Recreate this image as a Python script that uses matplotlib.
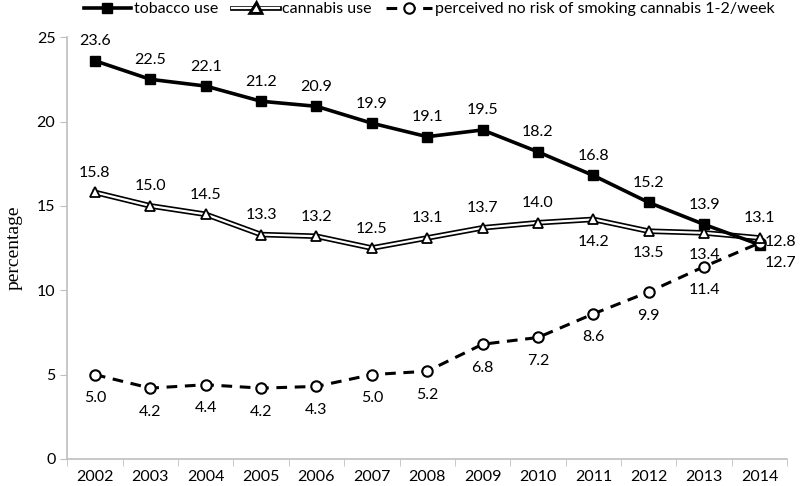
import matplotlib
matplotlib.use("Agg")
import matplotlib.pyplot as plt
import matplotlib.patheffects as pe
from matplotlib.lines import Line2D

years = [2002, 2003, 2004, 2005, 2006, 2007, 2008, 2009, 2010, 2011, 2012, 2013, 2014]
tobacco = [23.6, 22.5, 22.1, 21.2, 20.9, 19.9, 19.1, 19.5, 18.2, 16.8, 15.2, 13.9, 12.7]
cannabis = [15.8, 15.0, 14.5, 13.3, 13.2, 12.5, 13.1, 13.7, 14.0, 14.2, 13.5, 13.4, 13.1]
perceived = [5.0, 4.2, 4.4, 4.2, 4.3, 5.0, 5.2, 6.8, 7.2, 8.6, 9.9, 11.4, 12.8]
yticks = [0, 5, 10, 15, 20, 25]

plt.rcParams['font.family'] = ['Lato', 'DejaVu Sans']

fig = plt.figure(figsize=(8, 4.86), dpi=100)
ax = fig.add_axes([0.084, 0.0556, 0.9, 0.868])

x = list(range(len(years)))

# tobacco
l_tob, = ax.plot(x, tobacco, color='black', lw=2.6, marker='s', ms=7.5, zorder=3)

# cannabis (double line)
dbl = [pe.Stroke(linewidth=4.0, foreground='black'), pe.Normal()]
c_line, = ax.plot(x, cannabis, color='white', lw=1.6, zorder=2, solid_joinstyle='miter',
                  path_effects=dbl)
c_mk, = ax.plot(x, cannabis, ls='none', marker='^', ms=7.5, mfc='white', mec='black', mew=1.3, zorder=4)

# perceived
l_per, = ax.plot(x, perceived, color='black', lw=2.2, ls=(0, (3.5, 2.5)), marker='o', ms=7.5,
                 mfc='white', mec='black', mew=1.5, zorder=3)

fs = 11.5
for i, v in enumerate(tobacco):
    if i == len(x) - 1:
        off = (15, -13)
    else:
        off = (0, 14)
    ax.annotate(f"{v:.1f}", (x[i], v), xytext=off, textcoords='offset points',
                ha='center', va='center', fontsize=fs)

for i, v in enumerate(cannabis):
    if i in (9, 10, 11):
        off = (0, -16)
    else:
        off = (0, 14)
    ax.annotate(f"{v:.1f}", (x[i], v), xytext=off, textcoords='offset points',
                ha='center', va='center', fontsize=fs)

for i, v in enumerate(perceived):
    if i == len(x) - 1:
        off = (15, 1)
    else:
        off = (0, -17)
    ax.annotate(f"{v:.1f}", (x[i], v), xytext=off, textcoords='offset points',
                ha='center', va='center', fontsize=fs)

ax.set_xlim(-0.5, len(x) - 0.5)
ax.set_ylim(0, 25)
ax.set_yticks(yticks)
ax.set_xticks(x)
ax.set_xticklabels([str(y) for y in years], fontsize=11.5)
ax.set_xticks([i - 0.5 for i in range(len(x) + 1)], minor=True)
ax.tick_params(axis='x', which='major', length=0, pad=8)
ax.tick_params(axis='x', which='minor', length=5, color='#bfbfbf')
ax.tick_params(axis='y', length=5, color='#bfbfbf', labelsize=11.5)

for s in ('top', 'right'):
    ax.spines[s].set_visible(False)
for s in ('left', 'bottom'):
    ax.spines[s].set_color('#bfbfbf')
    ax.spines[s].set_linewidth(1.2)

ax.set_ylabel('percentage', family='Liberation Serif', fontsize=14)
ax.yaxis.set_label_coords(-0.062, 0.5)

# legend proxy for the double line with marker
p_can = Line2D([], [], color='white', lw=1.6, marker='^', ms=6, mfc='white', mec='black',
               mew=0.8, path_effects=[pe.Stroke(linewidth=3.4, foreground='black'), pe.Normal()])

fig.legend([l_tob, p_can, l_per],
           ['tobacco use', 'cannabis use', 'perceived no risk of smoking cannabis 1-2/week'],
           loc='upper center', bbox_to_anchor=(0.537, 1.025), ncol=3, frameon=False,
           fontsize=11.5, handlelength=2.9, columnspacing=0.9, handletextpad=0.2)

fig.savefig('out.png', dpi=100)
